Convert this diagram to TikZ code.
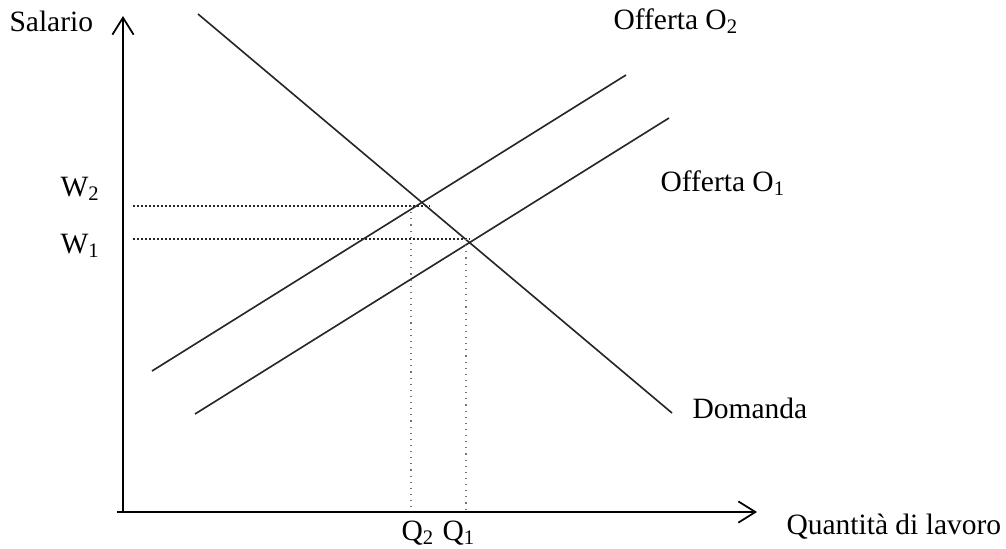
\documentclass[tikz,border=0pt]{standalone}
\usepackage{fontspec}
\setmainfont{Liberation Serif}
\usetikzlibrary{arrows.meta}
\tikzset{
  axis/.style={-{Straight Barb[length=6.8pt,width=8.5pt,line width=0.7pt]},line width=0.8pt,black},
  curve/.style={line width=0.65pt,black!85},
  guideh/.style={line width=0.6pt,densely dotted,black!85},
  guidev/.style={line width=0.45pt,dotted,black!55},
  lbl/.style={inner sep=0pt,font=\fontsize{11.8pt}{14pt}\selectfont},
}
\begin{document}
\begin{tikzpicture}[x=0.4pt,y=-0.4pt]
\useasboundingbox (0,0) rectangle (1006,548);
% axes
\coordinate (o) at (123,512);
\coordinate (ytop) at (123,16);
\coordinate (xend) at (757,512);
\draw[axis] (123,512) -- (ytop);
\draw[axis] (117,512) -- (xend);
\node[lbl,anchor=west] (sal) at (9,21) {Salario};
\node[lbl,anchor=west] (qty) at (786,527) {Quantità di lavoro};
% curves
\coordinate (d1) at (198,14);  \coordinate (d2) at (672,413);
\coordinate (a1) at (152,371); \coordinate (a2) at (626,75);
\coordinate (b1) at (195,414); \coordinate (b2) at (669,118);
\draw[curve] (d1) -- (d2);
\draw[curve] (a1) -- (a2);
\draw[curve] (b1) -- (b2);
\node[lbl,anchor=west] (dom) at (692,408) {Domanda};
\node[lbl,anchor=west] (off2) at (613,21) {Offerta O\textsubscript{2}};
\node[lbl,anchor=west] (off1) at (660,183) {Offerta O\textsubscript{1}};
% equilibria
\coordinate (e2) at (430,206); \coordinate (e1) at (470,239);
\coordinate (w2) at (133,206); \coordinate (w1) at (133,239);
\coordinate (q2) at (411,206); \coordinate (q1) at (466,239);
\draw[guideh] (w2) -- (e2);
\draw[guideh] (w1) -- (e1);
\draw[guidev] (q2) -- (q2 |- o);
\draw[guidev] (q1) -- (q1 |- o);
\node[lbl,anchor=west] (lw2) at (60,189) {W\textsubscript{2}};
\node[lbl,anchor=west] (lw1) at (60,246) {W\textsubscript{1}};
\node[lbl,anchor=west] (lq2) at (401,533) {Q\textsubscript{2}};
\node[lbl,anchor=west] (lq1) at (442,533) {Q\textsubscript{1}};
\end{tikzpicture}
\end{document}
